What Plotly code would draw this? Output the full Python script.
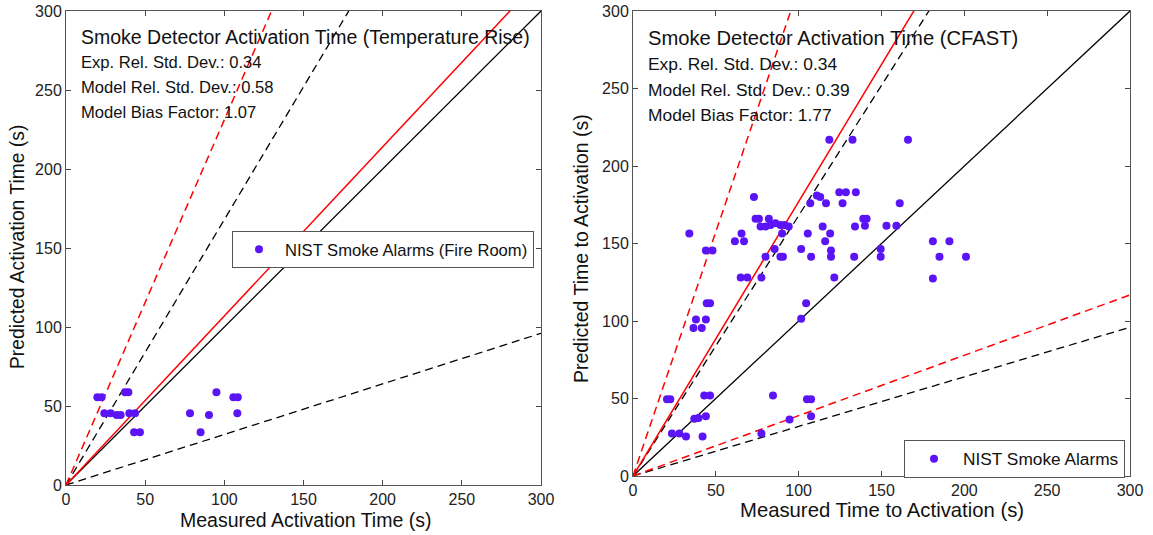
import plotly.graph_objects as go

# ---------------- data ----------------
left_measured = [19.8, 22.5, 24.2, 28.2, 32.0, 34.5, 37.3, 39.4, 40.0, 43.6, 43.0, 46.7,
                 78.3, 85.0, 90.3, 95.0, 105.7, 108.5, 108.2]
left_predicted = [55.5, 55.5, 45.4, 45.4, 44.3, 44.3, 58.7, 58.7, 45.4, 45.4, 33.4, 33.4,
                  45.4, 33.4, 44.3, 58.7, 55.5, 55.5, 45.4]

right_measured = [73, 111, 113, 124.5, 128.5, 134.5, 107, 116.5, 126.5, 161,
                  74, 76, 82, 77, 80, 83, 86, 89, 91.5, 94,
                  90, 105.5, 114.5, 119, 116, 134, 139, 141, 140, 153, 159,
                  34, 61.5, 67, 65.5, 44, 48, 85.5, 80, 89, 90.5,
                  101.5, 107.5, 119.5, 119.5, 133.5, 149.5, 149.5,
                  65, 69, 77.5, 121.5, 44.5, 46.5, 104.5,
                  38, 44, 36.5, 41.5, 101.5,
                  20.5, 22.5, 43, 46.5, 84.5, 105, 107.5,
                  37, 39.5, 44, 94.5, 107.5,
                  23.5, 28, 32, 42, 77.5,
                  118.5, 132.5, 166,
                  181, 191, 185, 201, 181]
right_predicted = [180, 181, 180, 183, 183, 183, 176, 176, 176, 176,
                   166, 166, 166, 161, 161, 162, 163, 162, 162, 161,
                   156.5, 156.5, 161, 156.5, 151.5, 161, 166, 166, 161.5, 161.5, 161.5,
                   156.5, 151.5, 151.5, 156.5, 145.5, 145.5, 146.5, 141.5, 141.5, 141.5,
                   146.5, 141.5, 145.5, 141.5, 141.5, 146.5, 141.5,
                   128, 128, 128, 128, 111.5, 111.5, 111.5,
                   101, 101, 95.5, 95.5, 101.5,
                   49.5, 49.5, 52, 52, 52, 49.5, 49.5,
                   37, 37.5, 38.5, 36.5, 38.5,
                   27.5, 27.5, 25.5, 25.5, 27.5,
                   217, 217, 217,
                   151.5, 151.5, 141.5, 141.5, 127.5]

titles = ["Smoke Detector Activation Time (Temperature Rise)",
          "Smoke Detector Activation Time (CFAST)"]
exp_rsd = [0.34, 0.34]
model_rsd = [0.58, 0.39]
bias = [1.07, 1.77]
legend_names = ["NIST Smoke Alarms (Fire Room)", "NIST Smoke Alarms"]
x_titles = ["Measured Activation Time (s)", "Measured Time to Activation (s)"]
y_titles = ["Predicted Activation Time (s)", "Predicted Time to Activation (s)"]
axis_range = [0, 300]
tick_vals = [0, 50, 100, 150, 200, 250, 300]

# ---------------- figure ----------------
W, H = 1153, 535
FONT = "Liberation Sans, Arial, Helvetica, sans-serif"
MARK = "#5a14f5"
TXT = "#111"
DASH = "8px,5px"

fig = go.Figure()

# plot rectangles in pixels: (left, right, top, bottom)
boxes = [(66, 541, 11, 485), (633, 1130, 11, 476)]


def px2x(p):
    return p / W


def px2y(p):
    return 1 - p / H


axes_names = [("x", "y"), ("x2", "y2")]
data_sets = [(left_measured, left_predicted), (right_measured, right_predicted)]
legends = ["legend", "legend2"]

for i in range(2):
    xa, ya = axes_names[i]
    xs = [axis_range[0], axis_range[1]]
    # black lines: exact and experimental uncertainty
    for slope, dash in [(1.0, "solid"), (1 + 2 * exp_rsd[i], DASH), (1 - 2 * exp_rsd[i], DASH)]:
        fig.add_trace(go.Scatter(x=xs, y=[v * slope for v in xs], mode="lines",
                                 line=dict(color="black", width=1.3, dash=dash),
                                 xaxis=xa, yaxis=ya, showlegend=False, hoverinfo="skip"))
    # red lines: model bias and model uncertainty
    red_slopes = [(bias[i], "solid"), (bias[i] * (1 + 2 * model_rsd[i]), DASH)]
    if 1 - 2 * model_rsd[i] > 0:
        red_slopes.append((bias[i] * (1 - 2 * model_rsd[i]), DASH))
    for slope, dash in red_slopes:
        fig.add_trace(go.Scatter(x=xs, y=[v * slope for v in xs], mode="lines",
                                 line=dict(color="#ff0000", width=1.5, dash=dash),
                                 xaxis=xa, yaxis=ya, showlegend=False, hoverinfo="skip"))
    mx, my = data_sets[i]
    fig.add_trace(go.Scatter(x=mx, y=my, mode="markers", name=legend_names[i],
                             marker=dict(color=MARK, size=8, line=dict(width=0)),
                             xaxis=xa, yaxis=ya, legend=legends[i], cliponaxis=False))

axis_common = dict(range=axis_range, tickvals=tick_vals, ticks="inside", ticklen=5,
                   tickcolor="#444", showline=True, linecolor="#555", linewidth=1,
                   mirror="ticks", showgrid=False, zeroline=False, automargin=False,
                   tickfont=dict(family=FONT, size=16, color="#222"))

layout = dict(width=W, height=H, margin=dict(l=0, r=0, t=0, b=0, autoexpand=False),
              paper_bgcolor="white", plot_bgcolor="white",
              font=dict(family=FONT, color="#222"))

for i in range(2):
    l, r, t, b = boxes[i]
    xk = "xaxis" if i == 0 else "xaxis2"
    yk = "yaxis" if i == 0 else "yaxis2"
    layout[xk] = dict(axis_common, domain=[px2x(l), px2x(r)], anchor="y" if i == 0 else "y2")
    layout[yk] = dict(axis_common, domain=[px2y(b), px2y(t)], anchor="x" if i == 0 else "x2")

legend_common = dict(bgcolor="white", bordercolor="#555", borderwidth=1,
                     xanchor="left", yanchor="top", xref="paper", yref="paper")
layout["legend"] = dict(legend_common, x=px2x(232), y=px2y(231), itemwidth=42,
                        font=dict(family=FONT, size=16.6, color=TXT))
layout["legend2"] = dict(legend_common, x=px2x(904), y=px2y(440), itemwidth=48,
                         font=dict(family=FONT, size=17.3, color=TXT))

fig.update_layout(**layout)

annotations = []
title_x = [79, 646]
title_font = [19.5, 20.2]
stat_font = [16.6, 17.4]
line_y = [[37, 63, 88, 113], [38, 64, 90, 115]]
for i in range(2):
    tx = title_x[i]
    ys = line_y[i]
    annotations.append(dict(x=px2x(tx), y=px2y(ys[0]), xref="paper", yref="paper",
                            text=titles[i], showarrow=False, xanchor="left", yanchor="middle",
                            font=dict(family=FONT, size=title_font[i], color=TXT)))
    stats = [f"Exp. Rel. Std. Dev.: {exp_rsd[i]:.2f}",
             f"Model Rel. Std. Dev.: {model_rsd[i]:.2f}",
             f"Model Bias Factor: {bias[i]:.2f}"]
    for k, s in enumerate(stats):
        annotations.append(dict(x=px2x(tx), y=px2y(ys[k + 1]), xref="paper", yref="paper",
                                text=s, showarrow=False, xanchor="left", yanchor="middle",
                                font=dict(family=FONT, size=stat_font[i], color=TXT)))
# axis titles
axis_title_specs = [
    (x_titles[0], 305, 520, 0, 19.5),
    (x_titles[1], 882, 510, 0, 20.3),
    (y_titles[0], 17, 247, -90, 19.3),
    (y_titles[1], 581, 249, -90, 19.5),
]
for text, ax_, ay_, ang, fs in axis_title_specs:
    annotations.append(dict(x=px2x(ax_), y=px2y(ay_), xref="paper", yref="paper", text=text,
                            showarrow=False, textangle=ang, xanchor="center", yanchor="middle",
                            font=dict(family=FONT, size=fs, color=TXT)))
fig.update_layout(annotations=annotations)

fig.write_html("out.html")
